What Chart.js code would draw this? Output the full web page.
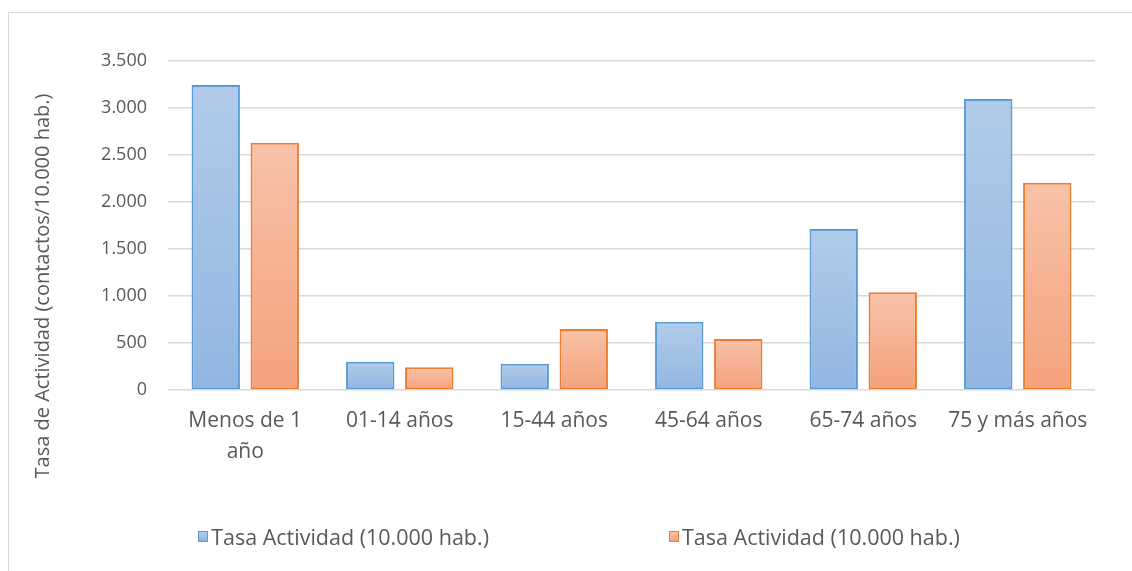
<!DOCTYPE html>
<html>
<head>
<meta charset="utf-8">
<script src="https://cdn.jsdelivr.net/npm/chart.js@4.4.1/dist/chart.umd.min.js"></script>
<style>
    body { margin: 0; background: #fff; overflow: hidden; font-family: "Open Sans", sans-serif; }
    #frame { position: absolute; left: 8px; top: 12px; width: 1200px; height: 600px; border: 1px solid #d9d9d9; }
    #wrap { position: absolute; left: 0; top: 0; width: 1132px; height: 571px; }
    #legend { position: absolute; left: 8px; width: 1142px; top: 522px; display: flex; justify-content: center; gap: 180px; }
    .item { display: flex; align-items: center; font-size: 21.5px; color: #595959; }
    .box { width: 8px; height: 9px; margin-right: 3px; border-width: 1.5px; border-style: solid; }
</style>
</head>
<body>
<div id="frame"></div>
<div id="wrap"><canvas id="combinedChart" width="1132" height="571"></canvas></div>
<div id="legend"></div>
<script>
var categories = [['Menos de 1', 'año'], '01-14 años', '15-44 años', '45-64 años', '65-74 años', '75 y más años'];
var serieLabels = ['Tasa Actividad (10.000 hab.)', 'Tasa Actividad (10.000 hab.)'];
var arrBlue = [3245, 300, 280, 727, 1713, 3096];
var arrOrange = [2630, 241, 649, 543, 1039, 2205];
var yTickLabels = ['0', '500', '1.000', '1.500', '2.000', '2.500', '3.000', '3.500'];
var yTitle = 'Tasa de Actividad (contactos/10.000 hab.)';

var colors = [
    { top: '#b2cbea', bottom: '#92b6e1', border: '#5b9bd5' },
    { top: '#f8c2a8', bottom: '#f4a27c', border: '#ed7d31' }
];

// degradado por barra, de arriba (claro) a abajo
function barFill(idx) {
    return function (ctx) {
        var chart = ctx.chart;
        var y = chart.scales.y;
        if (!y || ctx.parsed === undefined) return colors[idx].bottom;
        var top = y.getPixelForValue(ctx.parsed.y);
        var bottom = y.getPixelForValue(0);
        if (!isFinite(top) || top === bottom) return colors[idx].bottom;
        var g = chart.ctx.createLinearGradient(0, top, 0, bottom);
        g.addColorStop(0, colors[idx].top);
        g.addColorStop(1, colors[idx].bottom);
        return g;
    };
}

var yTitlePlugin = {
    id: 'yTitlePlugin',
    afterDraw: function (chart) {
        var c = chart.ctx;
        c.save();
        c.translate(43, 286);
        c.rotate(-Math.PI / 2);
        c.font = '20px "Open Sans"';
        c.fillStyle = '#595959';
        c.textAlign = 'center';
        c.textBaseline = 'middle';
        c.fillText(yTitle, 0, 0);
        c.restore();
    }
};

var data = {
    labels: categories,
    datasets: [
        {
            label: serieLabels[0],
            data: arrBlue,
            backgroundColor: barFill(0),
            borderColor: colors[0].border,
            borderWidth: 2,
            borderSkipped: false
        },
        {
            label: serieLabels[1],
            data: arrOrange,
            backgroundColor: barFill(1),
            borderColor: colors[1].border,
            borderWidth: 2,
            borderSkipped: false
        }
    ]
};

var options = {
    responsive: false,
    animation: false,
    categoryPercentage: 0.764,
    barPercentage: 0.82,
    layout: { padding: { left: 100, right: 37, top: 61, bottom: 81 } },
    plugins: {
        legend: { display: false },
        tooltip: { enabled: false }
    },
    scales: {
        x: {
            grid: { display: false, drawTicks: false },
            border: { display: false },
            ticks: {
                color: '#595959',
                font: { family: 'Open Sans', size: 21, lineHeight: 1.45 },
                padding: 16,
                maxRotation: 0,
                autoSkip: false
            },
            afterFit: function (s) { s.height = 100; }
        },
        y: {
            min: 0,
            max: 3500,
            grid: { color: '#d9d9d9', lineWidth: 1.5, drawTicks: false },
            border: { display: false },
            ticks: {
                stepSize: 500,
                color: '#595959',
                font: { family: 'Open Sans', size: 18 },
                padding: 21,
                callback: function (v, i) { return yTickLabels[i]; }
            },
            afterFit: function (s) { s.width = 68; }
        }
    }
};

var ctx = document.getElementById('combinedChart').getContext('2d');
var combinedChart = new Chart(ctx, { type: 'bar', data: data, options: options, plugins: [yTitlePlugin] });

// leyenda en HTML a partir de los datasets
combinedChart.data.datasets.forEach(function (ds, i) {
    var item = document.createElement('div');
    item.className = 'item';
    var box = document.createElement('span');
    box.className = 'box';
    box.style.borderColor = colors[i].border;
    box.style.background = 'linear-gradient(' + colors[i].top + ',' + colors[i].bottom + ')';
    item.appendChild(box);
    item.appendChild(document.createTextNode(ds.label));
    document.getElementById('legend').appendChild(item);
});
</script>
</body>
</html>
